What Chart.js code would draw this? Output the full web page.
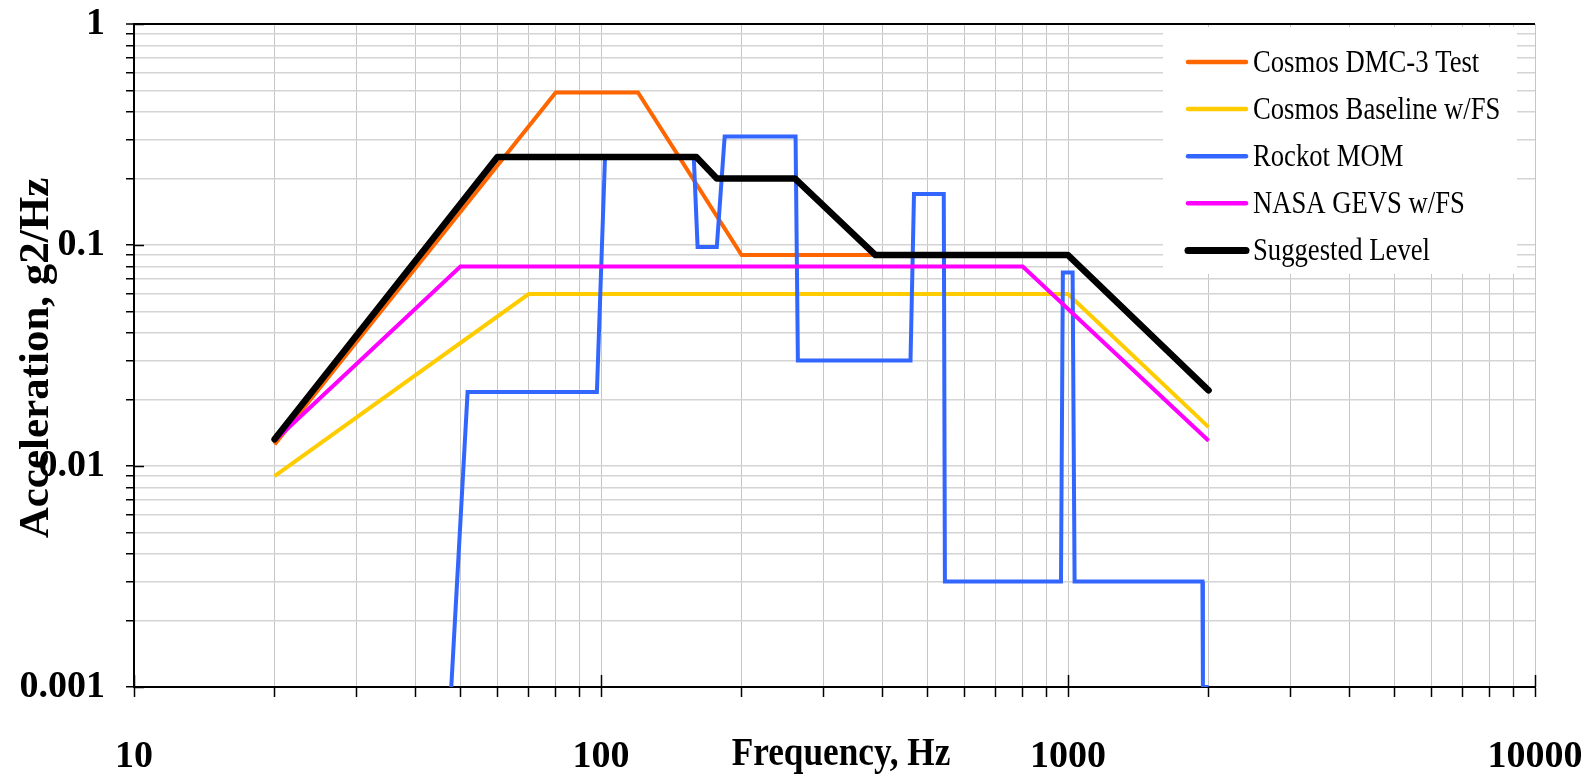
<!DOCTYPE html>
<html>
<head>
<meta charset="utf-8">
<script src="https://cdn.jsdelivr.net/npm/chart.js@4.4.1/dist/chart.umd.min.js"></script>
<style>
  html, body { margin: 0; padding: 0; background: #fff; }
  #chart { display: block; }
</style>
</head>
<body>
<canvas id="chart" width="1589" height="775"></canvas>
<script>
// ── Values (Hz / g2/Hz) ──
const seriesNames  = ['Cosmos DMC-3 Test', 'Cosmos Baseline w/FS', 'Rockot MOM', 'NASA GEVS w/FS', 'Suggested Level'];
const seriesColors = ['#FF6600', '#FFCC00', '#3366FF', '#FF00FF', '#000000'];

const cosmosTestHz = [20, 80, 120, 200, 1000, 2000];
const cosmosTestG  = [0.0125, 0.49, 0.49, 0.09, 0.09, 0.022];

const cosmosBaseHz = [20, 70, 1000, 2000];
const cosmosBaseG  = [0.009, 0.06, 0.06, 0.015];

const rockotHz = [45, 51.8, 98, 102, 158, 161, 177, 184, 261, 264, 460, 468, 542, 545, 966, 975, 1023, 1033, 1940, 1945, 2000];
const rockotG  = [0.0001, 0.0216, 0.0216, 0.25, 0.25, 0.098, 0.098, 0.31, 0.31, 0.03, 0.03, 0.17, 0.17, 0.003, 0.003, 0.075, 0.075, 0.003, 0.003, 0.001, 0.001];

const gevsHz = [20, 50, 800, 2000];
const gevsG  = [0.013, 0.08, 0.08, 0.013];

const suggestedHz = [20, 60, 160, 177, 260, 387, 1000, 2000];
const suggestedG  = [0.0132, 0.25, 0.25, 0.2, 0.2, 0.09, 0.09, 0.022];

const xTickLabels = ['10', '100', '1000', '10000'];
const yTickLabels = ['0.001', '0.01', '0.1', '1'];
const minorSteps  = [1, 2, 3, 4, 5, 6, 7, 8, 9];

// ── Helpers ──
function toPoints(xs, ys) {
  return xs.map((x, i) => ({ x: x, y: ys[i] }));
}

// every 1..9 multiple inside the decades, labels only on the decades
function decadeTicks(labels) {
  const decades = labels.map(Number);
  const ticks = [];
  decades.forEach((d, i) => {
    if (i === decades.length - 1) {
      ticks.push({ value: d, major: true });
      return;
    }
    minorSteps.forEach(m => ticks.push({ value: Number((m * d).toPrecision(6)), major: m === 1 }));
  });
  return ticks;
}

function labelFor(labels, value) {
  const i = labels.findIndex(l => Math.abs(Number(l) - value) < value * 1e-6);
  return i >= 0 ? labels[i] : '';
}

// keep the plot box where the layout padding puts it
function noOverhang(s) {
  s.paddingTop = 0; s.paddingBottom = 0; s.paddingLeft = 0; s.paddingRight = 0;
}

const serif = '"Liberation Serif", "Times New Roman", serif';
const lineData = [
  toPoints(cosmosTestHz, cosmosTestG),
  toPoints(cosmosBaseHz, cosmosBaseG),
  toPoints(rockotHz, rockotG),
  toPoints(gevsHz, gevsG),
  toPoints(suggestedHz, suggestedG)
];
const lineWidths = [4, 4, 4, 4, 6.5];
const legendWidths = [4.5, 4.5, 4.5, 4.5, 7];

// ── Axis titles, inner major ticks and legend box ──
const overlay = {
  id: 'overlay',
  afterDraw(chart) {
    const { ctx, chartArea: a } = chart;
    const x = chart.scales.x, y = chart.scales.y;
    ctx.save();

    ctx.strokeStyle = '#000';
    ctx.lineWidth = 1.5;
    x.ticks.forEach(t => {
      if (!t.major) return;
      const px = Math.round(x.getPixelForValue(t.value)) + 0.5;
      ctx.beginPath(); ctx.moveTo(px, a.bottom); ctx.lineTo(px, a.bottom - 12); ctx.stroke();
    });
    y.ticks.forEach(t => {
      if (!t.major) return;
      const py = Math.round(y.getPixelForValue(t.value)) + 0.5;
      ctx.beginPath(); ctx.moveTo(a.left, py); ctx.lineTo(a.left + 10, py); ctx.stroke();
    });

    ctx.fillStyle = '#000';
    ctx.textBaseline = 'alphabetic';
    ctx.textAlign = 'center';
    ctx.font = 'bold 41px ' + serif;
    ctx.save();
    ctx.translate(841, 765);
    ctx.scale(0.86, 1);
    ctx.fillText('Frequency, Hz', 0, 0);
    ctx.restore();

    ctx.font = 'bold 43px ' + serif;
    ctx.save();
    ctx.translate(48, 358);
    ctx.rotate(-Math.PI / 2);
    ctx.fillText('Acceleration, g2/Hz', 0, 0);
    ctx.restore();

    // legend
    const lg = { left: 1163, top: 27, width: 354, height: 247, row0: 62, gap: 47.1 };
    ctx.fillStyle = '#fff';
    ctx.fillRect(lg.left, lg.top, lg.width, lg.height);
    ctx.textAlign = 'left';
    ctx.font = '31px ' + serif;
    chart.data.datasets.forEach((ds, i) => {
      const cy = lg.row0 + i * lg.gap;
      ctx.strokeStyle = ds.borderColor;
      ctx.lineWidth = legendWidths[i];
      ctx.lineCap = 'round';
      ctx.beginPath(); ctx.moveTo(1188, cy); ctx.lineTo(1246, cy); ctx.stroke();
      ctx.fillStyle = '#000';
      ctx.save();
      ctx.translate(1253, cy + 10);
      ctx.scale(0.86, 1);
      ctx.fillText(ds.label, 0, 0);
      ctx.restore();
    });

    ctx.restore();
  }
};

new Chart(document.getElementById('chart'), {
  type: 'scatter',
  data: {
    datasets: seriesNames.map((name, i) => ({
      label: name,
      data: lineData[i],
      showLine: true,
      borderColor: seriesColors[i],
      backgroundColor: seriesColors[i],
      borderWidth: lineWidths[i],
      pointRadius: 0,
      pointHoverRadius: 0,
      borderCapStyle: i === 4 ? 'round' : 'butt',
      borderJoinStyle: i === 4 ? 'round' : 'miter',
      order: seriesNames.length - i
    }))
  },
  options: {
    responsive: false,
    animation: false,
    devicePixelRatio: 1,
    layout: { padding: { top: 24, right: 54, left: 0, bottom: 0 } },
    plugins: {
      legend: { display: false },
      tooltip: { enabled: false }
    },
    scales: {
      x: {
        type: 'logarithmic',
        min: 10,
        max: 10000,
        afterBuildTicks: s => { s.ticks = decadeTicks(xTickLabels); },
        afterFit: s => { s.height = 88; noOverhang(s); },
        border: { color: '#000', width: 2 },
        grid: { color: '#c6c6c6', lineWidth: 1, tickLength: 10, tickColor: '#000', tickWidth: 1.5 },
        ticks: {
          autoSkip: false,
          maxRotation: 0,
          minRotation: 0,
          padding: 37,
          color: '#000',
          font: { family: serif, size: 38, weight: 'bold' },
          callback: v => labelFor(xTickLabels, v)
        }
      },
      y: {
        type: 'logarithmic',
        min: 0.001,
        max: 1,
        afterBuildTicks: s => { s.ticks = decadeTicks(yTickLabels); },
        afterFit: s => { s.width = 134; noOverhang(s); },
        border: { color: '#000', width: 2 },
        grid: {
          color: c => (c.tick && c.tick.value === 1 ? '#000' : '#d4d4d4'),
          lineWidth: c => (c.tick && c.tick.value === 1 ? 2 : 1.5),
          tickLength: 8,
          tickColor: '#000',
          tickWidth: 1.5
        },
        ticks: {
          autoSkip: false,
          padding: 21,
          color: '#000',
          font: { family: serif, size: 38, weight: 'bold' },
          callback: v => labelFor(yTickLabels, v)
        }
      }
    }
  },
  plugins: [overlay]
});
</script>
</body>
</html>
